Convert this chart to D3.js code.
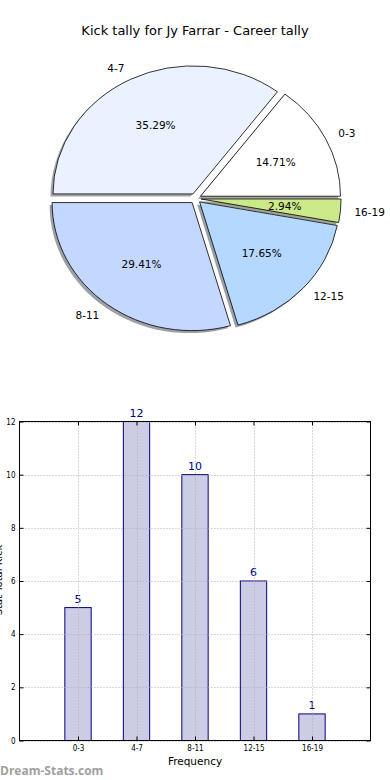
<!DOCTYPE html>
<html>
<head>
<meta charset="utf-8">
<script src="https://cdn.jsdelivr.net/npm/d3@7"></script>
<style>
  body { margin: 0; background: #fff; }
  svg { display: block; font-family: "DejaVu Sans", sans-serif; }
</style>
</head>
<body>
<div id="chart"></div>
<script>
// ---- data ----
const categories = ["0-3", "4-7", "8-11", "12-15", "16-19"];
const counts = [5, 12, 10, 6, 1];
const pieColors = ["#ffffff", "#ebf2ff", "#c4d8ff", "#b4d8ff", "#cce98a"];
const yTicks = [0, 2, 4, 6, 8, 10, 12];
const titleText = "Kick tally for Jy Farrar - Career tally";

const width = 390, height = 780;
const svg = d3.select("#chart").append("svg")
  .attr("width", width).attr("height", height);

// title
svg.append("text")
  .attr("x", 195).attr("y", 35)
  .attr("text-anchor", "middle")
  .style("font-size", "13px")
  .text(titleText);

//----------------------------PIE-----------------------------//
const cx = 195.5, cy = 198.5, rx = 140, ry = 128, explode = 0.04;
const total = d3.sum(counts);
// matplotlib style: counter-clockwise from 3 o'clock
let acc = 0;
const wedges = counts.map((v, i) => {
  const t1 = acc / total * 2 * Math.PI;
  acc += v;
  const t2 = acc / total * 2 * Math.PI;
  const mid = (t1 + t2) / 2;
  return {
    cat: categories[i], value: v, color: pieColors[i], t1, t2, mid,
    ox: cx + explode * rx * Math.cos(mid),
    oy: cy - explode * ry * Math.sin(mid)
  };
});

const arc = d3.arc().innerRadius(0).outerRadius(1);
const wedgePath = (d) => arc({ startAngle: Math.PI / 2 - d.t2, endAngle: Math.PI / 2 - d.t1 });

const shade = (c) => {
  const k = d3.rgb(c);
  return d3.rgb(k.r * 0.3, k.g * 0.3, k.b * 0.3).toString();
};

const pie = svg.append("g");
// shadows
pie.selectAll("path.shadow").data(wedges).enter().append("path")
  .attr("class", "shadow")
  .attr("transform", (d) => `translate(${d.ox - 2.5},${d.oy + 2.5}) scale(${rx},${ry})`)
  .attr("d", wedgePath)
  .attr("fill", (d) => shade(d.color))
  .attr("fill-opacity", 0.5);
// wedges
pie.selectAll("path.wedge").data(wedges).enter().append("path")
  .attr("class", "wedge")
  .attr("transform", (d) => `translate(${d.ox},${d.oy}) scale(${rx},${ry})`)
  .attr("d", wedgePath)
  .attr("fill", (d) => d.color)
  .attr("stroke", "#000")
  .attr("stroke-width", 0.8)
  .attr("vector-effect", "non-scaling-stroke");

// percent labels
pie.selectAll("text.pct").data(wedges).enter().append("text")
  .attr("x", (d) => d.ox + 0.6 * rx * Math.cos(d.mid))
  .attr("y", (d) => d.oy - 0.6 * ry * Math.sin(d.mid))
  .attr("dy", "0.35em")
  .attr("text-anchor", "middle")
  .style("font-size", "10.5px")
  .text((d) => (d.value / total * 100).toFixed(2) + "%");

// category labels
pie.selectAll("text.cat").data(wedges).enter().append("text")
  .attr("x", (d) => d.ox + 1.1 * rx * Math.cos(d.mid))
  .attr("y", (d) => d.oy - 1.1 * ry * Math.sin(d.mid))
  .attr("dy", "0.35em")
  .attr("text-anchor", (d) => Math.cos(d.mid) > 0 ? "start" : "end")
  .style("font-size", "10.5px")
  .text((d) => d.cat);

//----------------------------BARS-----------------------------//
const pLeft = 19.5, pRight = 370.5, pTop = 421.5, pBottom = 740.5;
const x = d3.scaleLinear().domain([-1, categories.length]).range([pLeft, pRight]);
const y = d3.scaleLinear().domain([0, 12]).range([pBottom, pTop]);
const barW = 0.45;

const bars = svg.append("g");
bars.selectAll("rect").data(counts).enter().append("rect")
  .attr("x", (d, i) => x(i - barW / 2))
  .attr("y", (d) => y(d))
  .attr("width", x(barW) - x(0))
  .attr("height", (d) => y(0) - y(d))
  .attr("fill", "#ccccE5")
  .attr("stroke", "#000080")
  .attr("stroke-width", 1);

// grid (drawn over bars)
const grid = svg.append("g")
  .attr("stroke", "#b0b0b0").attr("stroke-width", 1)
  .attr("stroke-dasharray", "1,2");
grid.selectAll("line.gx").data(categories).enter().append("line")
  .attr("x1", (d, i) => Math.round(x(i)) + 0.5).attr("x2", (d, i) => Math.round(x(i)) + 0.5)
  .attr("y1", pTop).attr("y2", pBottom);
grid.selectAll("line.gy").data(yTicks).enter().append("line")
  .attr("x1", pLeft).attr("x2", pRight)
  .attr("y1", (d) => Math.round(y(d)) + 0.5).attr("y2", (d) => Math.round(y(d)) + 0.5);

// value labels
bars.selectAll("text.val").data(counts).enter().append("text")
  .attr("x", (d, i) => x(i))
  .attr("y", (d) => y(d) - 5)
  .attr("text-anchor", "middle")
  .attr("fill", "#000080")
  .style("font-size", "11px")
  .text((d) => d);

// axes
const yAxis = d3.axisLeft(y).tickValues(yTicks).tickSizeInner(-4).tickSizeOuter(0).tickPadding(4);
const yAxisR = d3.axisRight(y).tickValues(yTicks).tickSizeInner(-4).tickSizeOuter(0).tickFormat("");
const xAxis = d3.axisBottom(x).tickValues(d3.range(categories.length))
  .tickFormat((i) => categories[i]).tickSizeInner(-4).tickSizeOuter(0).tickPadding(5);
const xAxisT = d3.axisTop(x).tickValues(d3.range(categories.length))
  .tickSizeInner(-4).tickSizeOuter(0).tickFormat("");

const styleAxis = (g) => {
  g.select(".domain").remove();
  g.selectAll("text").style("font-size", "8px").attr("fill", "#000")
    .style("font-family", "'DejaVu Sans Condensed', 'DejaVu Sans', sans-serif");
  g.selectAll("line").attr("stroke", "#000");
};
svg.append("g").attr("transform", `translate(${pLeft},0)`).call(yAxis).call(styleAxis);
svg.append("g").attr("transform", `translate(${pRight},0)`).call(yAxisR).call(styleAxis);
svg.append("g").attr("transform", `translate(0,${pBottom})`).call(xAxis).call(styleAxis);
svg.append("g").attr("transform", `translate(0,${pTop})`).call(xAxisT).call(styleAxis);

// frame
svg.append("rect")
  .attr("x", pLeft).attr("y", pTop)
  .attr("width", pRight - pLeft).attr("height", pBottom - pTop)
  .attr("fill", "none").attr("stroke", "#000").attr("stroke-width", 1);

// axis labels
svg.append("text")
  .attr("x", (pLeft + pRight) / 2).attr("y", 765)
  .attr("text-anchor", "middle")
  .style("font-size", "10.5px")
  .text("Frequency");
// y label sits mostly off the left edge, as in the original
svg.append("text")
  .attr("transform", "translate(2,580) rotate(-90)")
  .attr("text-anchor", "middle")
  .style("font-size", "10px")
  .text("Stat Total Kick");

// watermark
svg.append("text")
  .attr("x", 0).attr("y", 775)
  .attr("fill", "#a0a0a0")
  .style("font-size", "12px")
  .style("font-weight", "bold")
  .style("font-family", "'Open Sans', sans-serif")
  .text("Dream-Stats.com");
</script>
</body>
</html>
